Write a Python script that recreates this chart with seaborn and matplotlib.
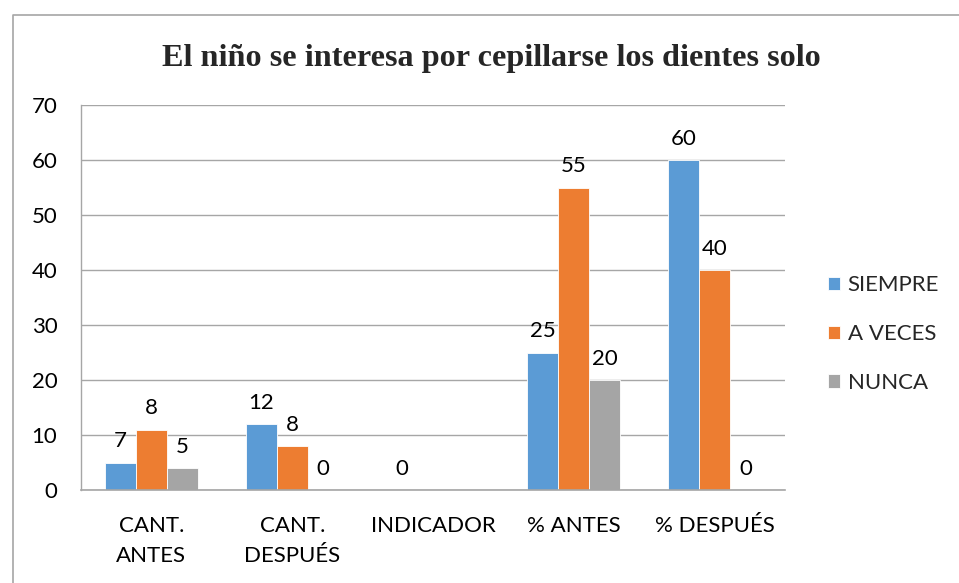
import matplotlib
matplotlib.use("Agg")
import matplotlib.pyplot as plt
import seaborn as sns
import pandas as pd
import numpy as np
from matplotlib.lines import Line2D

categories = ["CANT.\nANTES", "CANT.\nDESPUÉS", "INDICADOR", "% ANTES", "% DESPUÉS"]
series = ["SIEMPRE", "A VECES", "NUNCA"]
siempre_vals = [5, 12, 0, 25, 60]
aveces_vals = [11, 8, 0, 55, 40]
nunca_vals = [4, 0, 0, 20, 0]
siempre_labels = ["7", "12", "0", "25", "60"]
aveces_labels = ["8", "8", "", "55", "40"]
nunca_labels = ["5", "0", "", "20", "0"]
colors = ["#5B9BD5", "#ED7D31", "#A5A5A5"]
yticks = [0, 10, 20, 30, 40, 50, 60, 70]

sns.set_theme(style="white")
plt.rcParams["font.family"] = ["Lato", "DejaVu Sans"]

rows = []
for s, vals in zip(series, [siempre_vals, aveces_vals, nunca_vals]):
    for c, v in zip(categories, vals):
        rows.append({"cat": c, "serie": s, "val": v})
df = pd.DataFrame(rows)

fig = plt.figure(figsize=(9.59, 5.83), dpi=100)
ax = fig.add_axes([0.0845, 0.1595, 0.8186 - 0.0845, 0.8199 - 0.1595])

sns.barplot(data=df, x="cat", y="val", hue="serie", palette=colors,
            width=0.66, gap=0, saturation=1, ax=ax, legend=True,
            edgecolor="white", linewidth=0.6)

FS = 16
all_labels = [siempre_labels, aveces_labels, nunca_labels]
for cont, labs in zip(ax.containers, all_labels):
    ax.bar_label(cont, labels=labs, padding=8, fontsize=FS, color="#000000")

ax.set_ylim(0, 70)
ax.set_xlim(-0.5, 4.5)
ax.set_yticks(yticks)
ax.yaxis.grid(True, color="#A6A6A6", linewidth=1)
ax.set_axisbelow(True)
ax.set_xlabel("")
ax.set_ylabel("")
for side in ["top", "right"]:
    ax.spines[side].set_visible(False)
ax.spines["left"].set_color("#A6A6A6")
ax.spines["bottom"].set_color("#A6A6A6")
ax.spines["left"].set_linewidth(1)
ax.spines["bottom"].set_linewidth(1.2)
ax.tick_params(axis="y", labelsize=FS, pad=17, length=0, colors="#000000")
ax.tick_params(axis="x", labelsize=FS, pad=19, length=0, colors="#000000")
for t in ax.get_xticklabels():
    t.set_linespacing(1.6)

leg = ax.legend(loc="center left", bbox_to_anchor=(1.032, 0.405), frameon=False,
                fontsize=FS, handlelength=0.55, handleheight=0.55,
                handletextpad=0.35, labelspacing=1.3)

fig.text(0.512, 0.90, "El niño se interesa por cepillarse los dientes solo",
         ha="center", va="center", fontsize=23.2, fontweight="bold",
         family=["Liberation Serif", "DejaVu Serif"])

fig.add_artist(Line2D([12.5 / 959, 12.5 / 959, 1.0], [0.0, 1 - 14.5 / 583, 1 - 14.5 / 583],
                      transform=fig.transFigure, color="#A6A6A6", linewidth=1.2))

fig.savefig("out.png", dpi=100)
